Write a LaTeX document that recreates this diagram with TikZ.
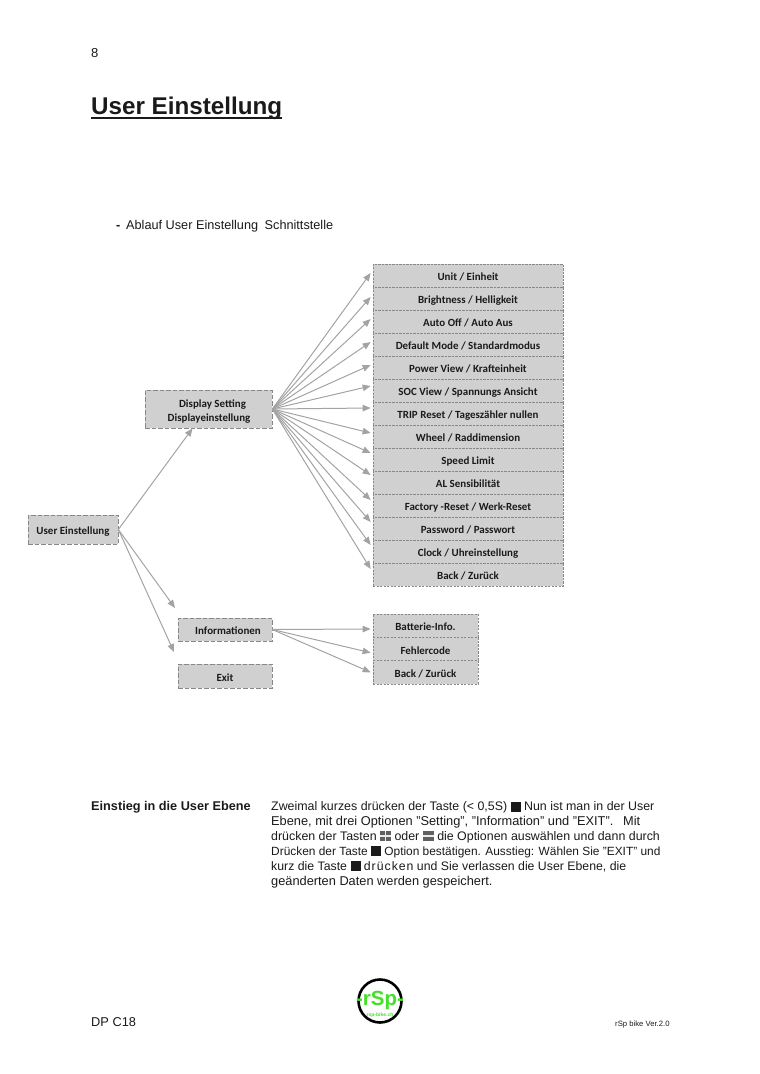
\documentclass[tikz,border=0pt]{standalone}
\usepackage{fontspec}
\setmainfont{Liberation Sans}
\newfontfamily\boxfont{Carlito}[BoldFont=Carlito Bold]
\usetikzlibrary{arrows.meta}
\definecolor{boxgray}{HTML}{D0D0D0}
\definecolor{edgegray}{HTML}{888888}
\definecolor{arrgray}{HTML}{A3A3A3}
\definecolor{txt}{HTML}{1A1A1A}
\definecolor{logogreen}{HTML}{44E02A}
\newcommand{\lbl}[1]{\raisebox{-6pt}[0pt][0pt]{#1}}
\newcommand{\lblup}[1]{\raisebox{-5pt}[0pt][0pt]{#1}}
\newcommand{\keyblack}{\textcolor{txt}{\rule[-1pt]{10pt}{10pt}}}
\newcommand{\keyplus}{\rlap{\textcolor{gray!75!black}{\rule[-1pt]{11pt}{10pt}}}\rlap{\hspace*{4.7pt}\textcolor{white!85!gray}{\rule[-1pt]{1.6pt}{10pt}}}\textcolor{white!85!gray}{\rule[3.2pt]{11pt}{1.6pt}}}
\newcommand{\keyminus}{\rlap{\textcolor{gray!75!black}{\rule[-1pt]{11pt}{10pt}}}\textcolor{white!85!gray}{\rule[3.2pt]{11pt}{1.6pt}}}
\tikzset{
  boxbase/.style={draw=edgegray,fill=boxgray,line width=0.7pt,inner sep=0pt,font=\boxfont\bfseries\fontsize{10.95pt}{14pt}\selectfont,text=txt,align=center},
  mainbox/.style={boxbase,dash pattern=on 4.5pt off 2pt},
  rowbox/.style={boxbase,dash pattern=on 2.2pt off 1.3pt,minimum width=190pt,minimum height=23pt},
  subbox/.style={boxbase,dash pattern=on 2.2pt off 1.3pt,minimum width=105pt,minimum height=23.33pt},
  arr/.style={draw=arrgray,line width=1pt,-{Triangle[length=8pt,width=6.5pt,fill=arrgray]}},
  page/.style={anchor=base west,inner sep=0pt,text=txt,font=\fontsize{12.7pt}{14pt}\selectfont},
}
\begin{document}
\begin{tikzpicture}[x=1pt,y=-1pt]
\useasboundingbox (0,0) rectangle (760,1074);
\node[page,font=\fontsize{13pt}{15pt}\selectfont] (pagenum) at (91,57) {8};
\node[page,font=\bfseries\fontsize{24.2pt}{26pt}\selectfont] (title) at (91,114) {User Einstellung};
\draw[txt,line width=2.5pt] (title.base west)++(0,3.8) -- ++(191,0);
\node[page,font=\bfseries\fontsize{12.7pt}{14pt}\selectfont] (dash) at (116,229.5) {-};
\node[page] (intro) at (126,229.5) {Ablauf User Einstellung\hspace{3pt} Schnittstelle};
% Boxes
\node[mainbox,minimum width=90pt,minimum height=29pt] (user) at (73,529.5) {\raisebox{-4.5pt}[0pt][0pt]{User Einstellung}};
\node[mainbox,minimum width=127pt,minimum height=38pt] (disp) at (208.5,409) {\rule{0pt}{12pt}\hspace*{8pt}Display Setting\\\hspace*{1pt}Displayeinstellung};
\node[mainbox,minimum width=94pt,minimum height=23pt] (info) at (225,629.5) {\hspace*{6pt}\lblup{Informationen}};
\node[mainbox,minimum width=94pt,minimum height=24pt] (exit) at (225,676) {\lblup{Exit}};
% Rows
\foreach \nm/\yy/\tx in {
  r1/275.5/{Unit / Einheit},
  r2/298.5/{Brightness / Helligkeit},
  r3/321.5/{Auto Off / Auto Aus},
  r4/344.5/{Default Mode / Standardmodus},
  r5/367.5/{Power View / Krafteinheit},
  r6/390.5/{SOC View / Spannungs Ansicht},
  r7/413.5/{TRIP Reset / Tageszähler nullen},
  r8/436.5/{Wheel / Raddimension},
  r9/459.5/{Speed Limit},
  r10/482.5/{AL Sensibilität},
  r11/505.5/{Factory -Reset / Werk-Reset},
  r12/528.5/{Password / Passwort},
  r13/551.5/{Clock / Uhreinstellung},
  r14/574.5/{Back / Zurück}}
  {\node[rowbox] (\nm) at (468,\yy) {\lblup{\tx}};}
\foreach \nm/\yy/\tx in {s1/625.7/{Batterie-Info.},s2/649/{Fehlercode},s3/672.3/{Back / Zurück}}
  {\node[subbox] (\nm) at (425.5,\yy) {\lblup{\tx}};}
% Connectors
\coordinate (infoend) at (175,608);
\coordinate (exitend) at (174,652);
\draw[arr] (user.east) -- ([shift={(-16,0)}]disp.south);
\draw[arr] (user.east) -- (infoend);
\draw[arr] (user.east) -- (exitend);
\foreach \nm/\oo in {r1/-2.5,r2/-1.5,r3/-2.5,r4/-2.5,r5/-2.5,r6/-4.5,r7/-5.5,r8/-3.5,r9/-6.5,r10/-7.5,r11/-5.5,r12/-6.5,r13/-6.5,r14/-5.5}
  {\draw[arr] (disp.east) -- ([shift={(-2,\oo)}]\nm.west);}
\foreach \nm/\oo in {s1/3.3,s2/3.7,s3/0}
  {\draw[arr] (info.east) -- ([shift={(-2,\oo)}]\nm.west);}
% Lower text
\node[page,font=\bfseries\fontsize{12.7pt}{14pt}\selectfont] (head) at (91,810.5) {Einstieg in die User Ebene};
\node[page,font=\fontsize{12.4pt}{14pt}\selectfont] (l1) at (271,810.5) {Zweimal kurzes drücken der Taste (< 0,5S) \keyblack{} Nun ist man in der User};
\node[page,font=\fontsize{12.8pt}{14pt}\selectfont] (l2) at (271,825.5) {Ebene, mit drei Optionen "Setting", "Information" und "EXIT".\hspace{5pt} Mit};
\node[page,font=\fontsize{12.4pt}{14pt}\selectfont] (l3) at (271,840) {drücken der Tasten \keyplus{} oder \keyminus{} die Optionen auswählen und dann durch};
\node[page,font=\fontsize{11.9pt}{14pt}\selectfont] (l4) at (271,855) {Drücken der Taste \keyblack{} Option bestätigen. Ausstieg: Wählen Sie "EXIT" und};
\node[page,font=\fontsize{12.3pt}{14pt}\selectfont] (l5) at (271,870) {kurz die Taste \keyblack{} {\addfontfeature{LetterSpace=8}drücken} und Sie verlassen die User Ebene, die};
\node[page,font=\fontsize{12.8pt}{14pt}\selectfont] (l6) at (271,885) {geänderten Daten werden gespeichert.};
% Logo
\node[circle,draw=black,line width=2.6pt,fill=white,minimum size=43pt,inner sep=0pt] (logo) at (380,1001) {};
\node[inner sep=0pt,text=logogreen,font=\bfseries\fontsize{20.5pt}{22pt}\selectfont] (rsp) at (380,1000.5) {-rSp-};
\node[inner sep=0pt,text=logogreen,font=\bfseries\fontsize{5pt}{6pt}\selectfont] (rspurl) at (380,1015) {rsp-bike.ch};
% Footer
\node[page,font=\fontsize{12.8pt}{15pt}\selectfont] (foot) at (91,1026) {DP C18};
\node[page,font=\fontsize{7.7pt}{9pt}\selectfont] (ver) at (615,1026) {rSp bike Ver.2.0};
\end{tikzpicture}
\end{document}
